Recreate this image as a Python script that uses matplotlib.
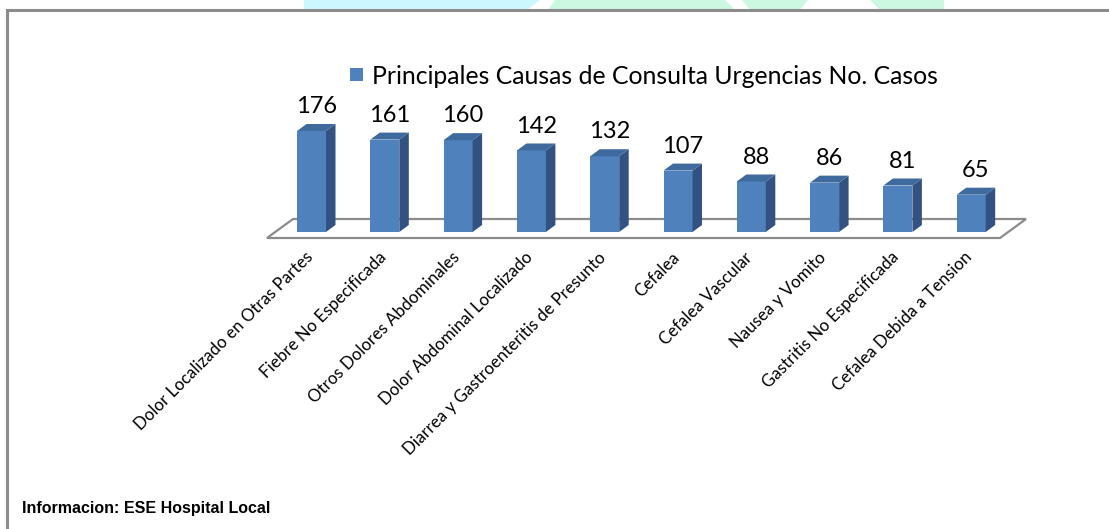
import numpy as np
import matplotlib
matplotlib.use('Agg')
import matplotlib.pyplot as plt
from matplotlib.patches import Polygon, Rectangle
from matplotlib.lines import Line2D

# data
causas = ['Dolor Localizado en Otras Partes', 'Fiebre No Especificada',
          'Otros Dolores Abdominales', 'Dolor Abdominal Localizado',
          'Diarrea y Gastroenteritis de Presunto', 'Cefalea', 'Cefalea Vascular',
          'Nausea y Vomito', 'Gastritis No Especificada', 'Cefalea Debida a Tension']
casos = [176, 161, 160, 142, 132, 107, 88, 86, 81, 65]
serie = 'Principales Causas de Consulta Urgencias No. Casos'
fuente = 'Informacion: ESE Hospital Local'

W, H = 1109, 529
FRONT = '#4F81BD'
SIDE = '#335281'
TOP = '#3E6A9E'

fig = plt.figure(figsize=(W / 100, H / 100), dpi=100)
fig.patch.set_facecolor('white')

# faint watermark shapes at the top
def px(x, y):
    return (x / W, 1 - y / H)

for pts, c in [([(304, 0), (540, 0), (527, 10), (304, 10)], '#CCF7FF'),
               ([(555, 0), (725, 0), (735, 10), (548, 10)], '#CCF7E0'),
               ([(742, 0), (808, 0), (800, 10), (750, 10)], '#CCF7E0'),
               ([(870, 0), (944, 0), (944, 10), (880, 10)], '#CCF7E0')]:
    fig.patches.append(Polygon([px(*p) for p in pts], closed=True, transform=fig.transFigure,
                               facecolor=c, edgecolor='none', zorder=0))

# border lines
fig.lines.append(Line2D([px(7, 0)[0], 1], [px(0, 10)[1]] * 2, transform=fig.transFigure,
                        color='#8C8C8C', lw=2.2))
fig.lines.append(Line2D([px(7, 0)[0]] * 2, [px(0, 10)[1], 0], transform=fig.transFigure,
                        color='#8C8C8C', lw=2.2))

# axes in category / value units
x_step = 73.3   # px per category
y_step = 0.574  # px per case
ymax = 200
ax = fig.add_axes([(311.5 - x_step / 2) / W, (H - 232) / H,
                   10 * x_step / W, ymax * y_step / H])
ax.set_xlim(-0.5, len(casos) - 0.5)
ax.set_ylim(0, ymax)
ax.axis('off')

x = np.arange(len(casos))
bw = 29 / x_step
ddx, ddy = 9.5 / x_step, 7 / y_step

# floor
fdx, fdy = 26 / x_step, 19 / y_step
fy0 = -6 / y_step
fx0, fx1 = (267 - 311.5) / x_step, (1000 - 311.5) / x_step
ax.add_patch(Polygon([(fx0, fy0), (fx1, fy0), (fx1 + fdx, fy0 + fdy), (fx0 + fdx, fy0 + fdy)],
                     closed=True, facecolor='white', edgecolor='#8C8C8C', lw=1.6,
                     clip_on=False, zorder=1))

bars = ax.bar(x, casos, width=bw, color=FRONT, zorder=3, clip_on=False)
for xi, v in zip(x, casos):
    r = xi + bw / 2
    l = xi - bw / 2
    ax.add_patch(Polygon([(r, 0), (r + ddx, ddy), (r + ddx, v + ddy), (r, v)],
                         closed=True, facecolor=SIDE, edgecolor='none', zorder=3, clip_on=False))
    ax.add_patch(Polygon([(l, v), (r, v), (r + ddx, v + ddy), (l + ddx, v + ddy)],
                         closed=True, facecolor=TOP, edgecolor='none', zorder=3, clip_on=False))
    ax.annotate(str(v), (xi + ddx / 2, v + ddy), xytext=(0, 5), textcoords='offset points',
                ha='center', va='bottom', fontsize=17, family='Lato', color='black')

# category labels
for xi, lab in zip(x, causas):
    ax.annotate(lab, (xi, fy0), xytext=(-5, -8), textcoords='offset points',
                rotation=45, ha='right', va='top', rotation_mode='anchor',
                fontsize=12.2, family='Lato', color='black', annotation_clip=False)

# legend
fig.patches.append(Rectangle(px(350, 81), 13 / W, 13 / H, transform=fig.transFigure,
                             facecolor=FRONT, edgecolor='none'))
fig.text(372 / W, px(0, 76)[1], serie, fontsize=17.8, family='Lato', va='center', ha='left')

fig.text(22 / W, px(0, 509)[1], fuente, fontsize=11.5, family='Liberation Sans',
         fontweight='bold', va='center', ha='left')

fig.savefig('out.png', dpi=100)
